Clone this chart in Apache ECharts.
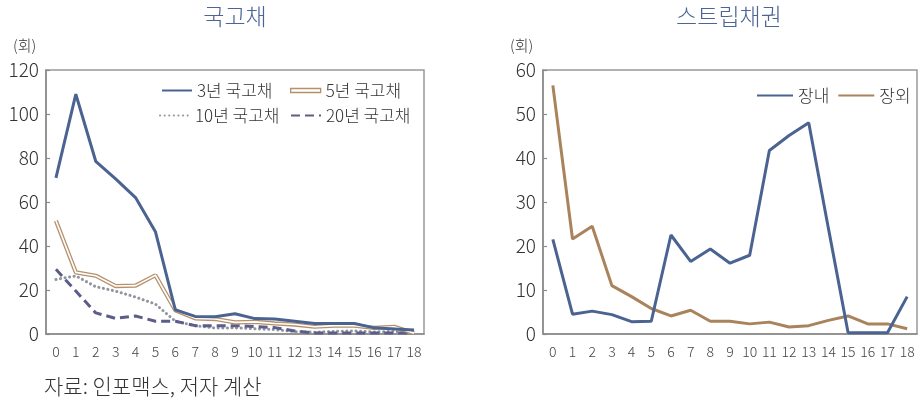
<!DOCTYPE html>
<html>
<head>
<meta charset="utf-8">
<script src="https://cdn.jsdelivr.net/npm/echarts@6/dist/echarts.min.js"></script>
<style>
  html, body { margin: 0; padding: 0; background: #fff; }
  #chart { width: 921px; height: 402px; }
</style>
</head>
<body>
<div id="chart"></div>
<script>
// 잔존만기별 거래 횟수 (0~18)
const categories = ['0','1','2','3','4','5','6','7','8','9','10','11','12','13','14','15','16','17','18'];

// 국고채 (회)
const ktb3y  = [71, 109, 78.5, 70.5, 62, 46.5, 11, 8, 7.8, 9.2, 7, 6.8, 5.8, 4.8, 4.8, 4.8, 2.8, 2.3, 1.8];
const ktb5y  = [51.5, 28, 26.5, 21.8, 22, 26.7, 10.8, 7.1, 6.8, 5.3, 5.5, 4.8, 4.3, 3.3, 3.8, 3.8, 2.8, 3.3, 0.4];
const ktb10y = [24.8, 26.4, 21.5, 19.5, 16.8, 13.6, 5.8, 3.8, 2.7, 2.8, 2.4, 2, 1.1, 0.8, 1.2, 1.4, 0.9, 1.2, 0.1];
const ktb20y = [29.4, 19.5, 9.6, 7.1, 8.2, 5.8, 5.8, 3.8, 3.8, 3.8, 3.4, 2.9, 1.4, 0.4, 0.4, 0.4, 0.4, 0.4, 0.4];

// 스트립채권 (회)
const stripExchange = [21.5, 4.5, 5.2, 4.4, 2.8, 2.9, 22.5, 16.5, 19.3, 16.1, 17.9, 41.7, 45.1, 48, 24, 0.3, 0.3, 0.3, 8.5];
const stripOTC      = [56.5, 21.6, 24.5, 11, 8.5, 5.8, 4.1, 5.4, 2.9, 2.9, 2.3, 2.7, 1.6, 1.9, 3.1, 4.1, 2.3, 2.3, 1.2];

const leftTicks = { min: 0, max: 120, interval: 20 };
const rightTicks = { min: 0, max: 60, interval: 10 };

const FONT = '"Noto Sans CJK KR", "Noto Sans", sans-serif';
const BLUE = '#4b6391';
const BROWN = '#a8835c';
const BROWN5 = '#b5906a';
const GRAY = '#8f949e';
const PURPLE = '#5c5d88';
const AXIS = '#8a8a8a';

function xAxisCfg(gridIndex) {
  return {
    type: 'category', gridIndex, data: categories, boundaryGap: true,
    axisLine: { lineStyle: { color: AXIS, width: 1.5 } },
    axisTick: { inside: true, length: 5, lineStyle: { color: AXIS, width: 1.2 } },
    axisLabel: { color: '#444', fontFamily: FONT, fontSize: 14, fontWeight: 300, margin: 11, interval: 0 },
    splitLine: { show: false }
  };
}
function yAxisCfg(gridIndex, t) {
  return {
    type: 'value', gridIndex, min: t.min, max: t.max, interval: t.interval,
    axisLine: { show: true, lineStyle: { color: AXIS, width: 1.5 } },
    axisTick: { show: true, inside: true, length: 4, lineStyle: { color: AXIS, width: 1.2 } },
    axisLabel: { color: '#333', fontFamily: FONT, fontSize: 19, fontWeight: 300, margin: 7 },
    splitLine: { show: false }
  };
}
const legendText = { color: '#333', fontFamily: FONT, fontSize: 17, fontWeight: 300 };
// the line series' legend marker is hidden so only the line sample shows
const legendBase = { itemHeight: 8, itemGap: 8, itemStyle: { opacity: 0 }, textStyle: legendText };
const titleText = { color: '#4b6595', fontFamily: FONT, fontSize: 23, fontWeight: 300 };

const chart = echarts.init(document.getElementById('chart'), null, { renderer: 'canvas' });
chart.setOption({
  animation: false,
  backgroundColor: '#fff',
  title: [
    { text: '국고채', left: 230, top: 0, textAlign: 'center', textStyle: titleText },
    { text: '스트립채권', left: 724, top: 0, textAlign: 'center', textStyle: titleText },
    { text: '(회)', left: 8, top: 33,
      textStyle: { color: '#333', fontFamily: FONT, fontSize: 15, fontWeight: 300 } },
    { text: '(회)', left: 505, top: 33,
      textStyle: { color: '#333', fontFamily: FONT, fontSize: 15, fontWeight: 300 } },
    { text: '자료: 인포맥스, 저자 계산', left: 39, top: 371,
      textStyle: { color: '#333', fontFamily: FONT, fontSize: 21, fontWeight: 300 } }
  ],
  grid: [
    { left: 46, right: 497, top: 70, bottom: 68, show: true, borderColor: '#999', borderWidth: 1.5, containLabel: false },
    { left: 543, right: 4, top: 70, bottom: 68, show: true, borderColor: '#999', borderWidth: 1.5, containLabel: false }
  ],
  legend: [
    Object.assign({}, legendBase, { data: ['3년 국고채'], left: 156, top: 77, itemWidth: 30 }),
    Object.assign({}, legendBase, {
      data: [{ name: '5년 국고채', icon: 'rect', itemStyle: { color: '#fff', borderColor: BROWN5, borderWidth: 1.3, opacity: 1 } }],
      left: 285, top: 77, itemWidth: 30, itemHeight: 4 }),
    Object.assign({}, legendBase, { data: ['10년 국고채'], left: 154, top: 102, itemWidth: 30 }),
    Object.assign({}, legendBase, { data: ['20년 국고채'], left: 285, top: 102, itemWidth: 30 }),
    Object.assign({}, legendBase, { data: ['장내', '장외'], left: 751, top: 82, itemWidth: 36 })
  ],
  xAxis: [xAxisCfg(0), xAxisCfg(1)],
  yAxis: [yAxisCfg(0, leftTicks), yAxisCfg(1, rightTicks)],
  series: [
    { name: '10년 국고채', type: 'line', xAxisIndex: 0, yAxisIndex: 0, data: ktb10y, symbol: 'none',
      lineStyle: { color: GRAY, width: 3, type: [0.1, 4.5], cap: 'round' }, itemStyle: { color: GRAY }, z: 2 },
    { name: '20년 국고채', type: 'line', xAxisIndex: 0, yAxisIndex: 0, data: ktb20y, symbol: 'none',
      lineStyle: { color: PURPLE, width: 3, type: [9, 5] }, itemStyle: { color: PURPLE }, z: 2 },
    { name: '5년 국고채', type: 'line', xAxisIndex: 0, yAxisIndex: 0, data: ktb5y, symbol: 'none',
      lineStyle: { color: BROWN5, width: 4.2 }, itemStyle: { color: BROWN5 }, z: 3 },
    { name: '5년 국고채 내부', type: 'line', xAxisIndex: 0, yAxisIndex: 0, data: ktb5y, symbol: 'none',
      lineStyle: { color: '#fff', width: 1.6 }, itemStyle: { color: '#fff' }, z: 4, silent: true },
    { name: '3년 국고채', type: 'line', xAxisIndex: 0, yAxisIndex: 0, data: ktb3y, symbol: 'none',
      lineStyle: { color: BLUE, width: 3 }, itemStyle: { color: BLUE }, z: 5 },
    { name: '장내', type: 'line', xAxisIndex: 1, yAxisIndex: 1, data: stripExchange, symbol: 'none',
      lineStyle: { color: BLUE, width: 3 }, itemStyle: { color: BLUE }, z: 4 },
    { name: '장외', type: 'line', xAxisIndex: 1, yAxisIndex: 1, data: stripOTC, symbol: 'none',
      lineStyle: { color: BROWN, width: 3 }, itemStyle: { color: BROWN }, z: 3 }
  ]
});
</script>
</body>
</html>
